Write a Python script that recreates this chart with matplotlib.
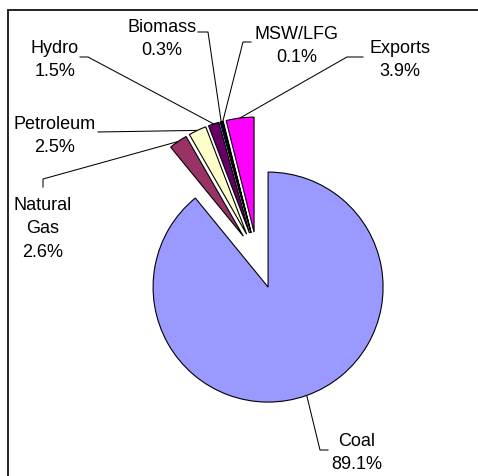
import numpy as np
import matplotlib
matplotlib.use("Agg")
import matplotlib.pyplot as plt
from matplotlib.patches import Rectangle

# ---- data ----
categories = ["Coal", "Natural\nGas", "Petroleum", "Hydro", "Biomass", "MSW/LFG", "Exports"]
shares = [89.1, 2.6, 2.5, 1.5, 0.3, 0.1, 3.9]
colors = ["#9999FF", "#993366", "#FFFFCC", "#660066", "#000066", "#333399", "#FF00FF"]
explode = [0.287, 0.209, 0.209, 0.209, 0.209, 0.209, 0.209]

W, H = 478, 477
CX, CY, R = 257.0, 257.0, 115.0  # pie centre / radius in pixels (layout)

fig = plt.figure(figsize=(W / 100, H / 100), dpi=100)
ax = fig.add_axes([0, 0, 1, 1])


def px(x, y):
    return (x - CX) / R, (CY - y) / R


wedges, _ = ax.pie(shares, colors=colors, explode=explode, startangle=90,
                   counterclock=False, radius=1.0,
                   wedgeprops=dict(edgecolor="black", linewidth=0.8))
ax.set_xlim(-CX / R, (W - CX) / R)
ax.set_ylim((CY - H) / R, CY / R)
ax.set_aspect("equal", adjustable="datalim")
ax.axis("off")

# label layout (pixel positions of text block centres and leader stubs)
label_pos = [(357, 453), (43, 229), (55, 60), (55, 60), (162, 39), (297, 46), (400, 60)]
label_pos[2] = (55, 136)
stubs = [
    [(328, 451), (320, 451)],
    [(43, 188), (43, 180)],
    [(98, 133)],
    [(80, 58), (88, 58)],
    [(198, 33), (208, 33)],
    [(251, 43), (243, 43)],
    [(363, 58), (347, 58)],
]

for w, name, val, lp, st in zip(wedges, categories, shares, label_pos, stubs):
    mid = np.deg2rad((w.theta1 + w.theta2) / 2)
    cx, cy = w.center
    arc = (cx + w.r * np.cos(mid), cy + w.r * np.sin(mid))
    pts = [px(*p) for p in st] + [arc]
    xs, ys = zip(*pts)
    ax.plot(xs, ys, color="black", linewidth=0.75, zorder=0)
    tx, ty = px(*lp)
    ax.text(tx, ty, f"{name}\n{val:.1f}%", ha="center", va="center",
            fontsize=13, family="Liberation Sans", linespacing=1.5)

# chart frame
fig.patches.append(Rectangle((8 / W, 0 - 0.1), 1.2, 1 - 11 / H + 0.1,
                             transform=fig.transFigure, fill=False,
                             edgecolor="#222222", linewidth=1.4))

fig.savefig("out.png", dpi=100)
